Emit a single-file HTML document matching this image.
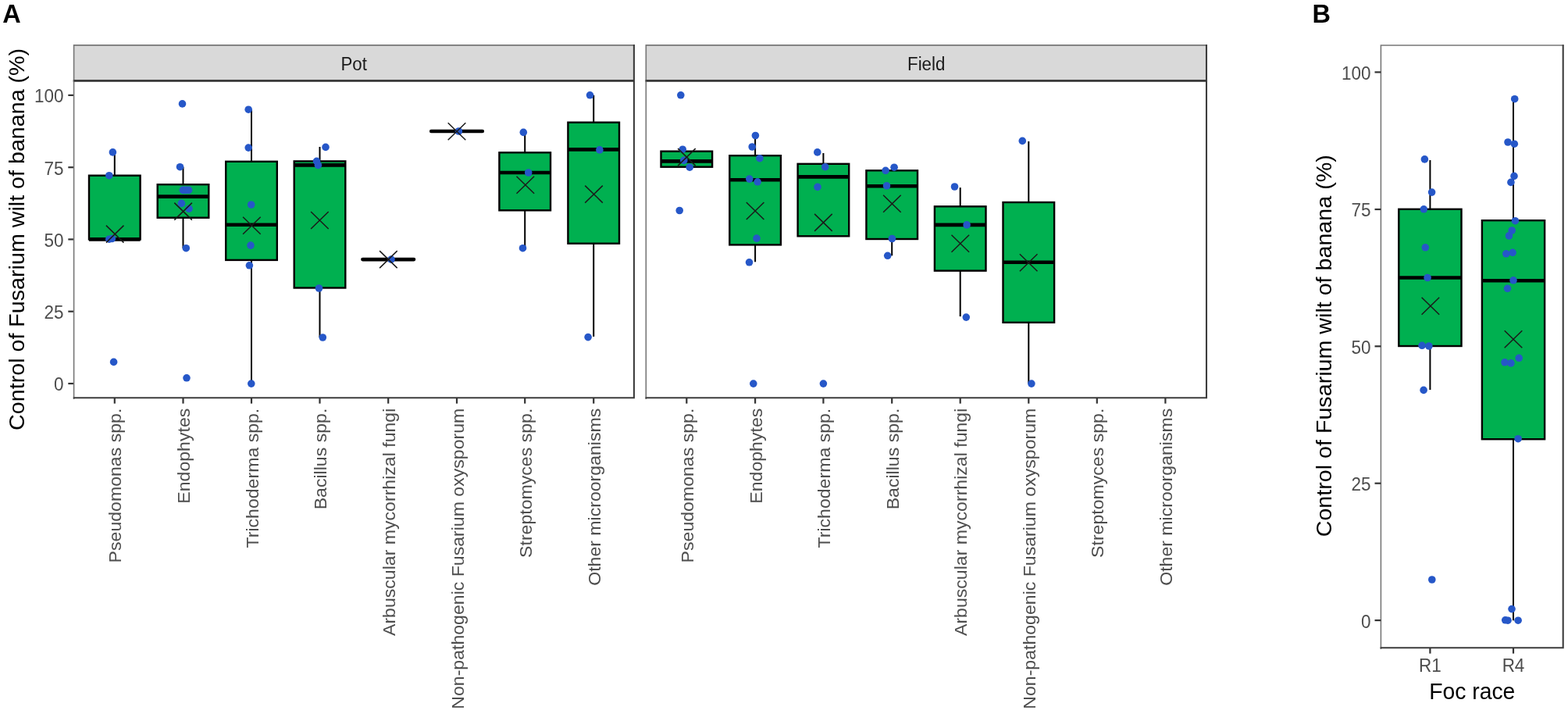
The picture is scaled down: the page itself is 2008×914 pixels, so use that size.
<!DOCTYPE html><html><head><meta charset="utf-8"><title>Fusarium wilt control</title><style>html,body{margin:0;padding:0;background:#fff;}svg{display:block;}text{font-family:"Liberation Sans",Arial,sans-serif;}</style></head><body>
<svg width="2008" height="914" viewBox="0 0 2008 914">
<rect width="2008" height="914" fill="#fff"/>
<text transform="translate(3.2,29.3) scale(1,1.03)" font-size="32.5" fill="#000" text-anchor="start" font-weight="bold">A</text>
<text transform="translate(1680.5,29.3) scale(1,1.03)" font-size="32.5" fill="#000" text-anchor="start" font-weight="bold">B</text>
<rect x="94.6" y="57.9" width="717.3" height="45.5" fill="#d9d9d9"/>
<path d="M94.6 104.2V57.9H811.9" fill="none" stroke="#777777" stroke-width="1.6" stroke-linecap="square"/>
<path d="M93.8 103.4H811.9V57.1" fill="none" stroke="#3d3d3d" stroke-width="2.1"/>
<text transform="translate(453.2,89.8) scale(1,1.06)" font-size="22.3" fill="#1a1a1a" text-anchor="middle">Pot</text>
<rect x="827.3" y="57.9" width="717.7" height="45.5" fill="#d9d9d9"/>
<path d="M827.3 104.2V57.9H1545.0" fill="none" stroke="#777777" stroke-width="1.6" stroke-linecap="square"/>
<path d="M826.5 103.4H1545.0V57.1" fill="none" stroke="#3d3d3d" stroke-width="2.1"/>
<text transform="translate(1186.2,89.8) scale(1,1.06)" font-size="22.3" fill="#1a1a1a" text-anchor="middle">Field</text>
<line x1="87.3" y1="121.9" x2="94.6" y2="121.9" stroke="#333" stroke-width="2.2"/>
<text transform="translate(81.5,131.3) scale(1,1.06)" font-size="22.5" fill="#4d4d4d" text-anchor="end">100</text>
<line x1="87.3" y1="214.2" x2="94.6" y2="214.2" stroke="#333" stroke-width="2.2"/>
<text transform="translate(81.5,223.6) scale(1,1.06)" font-size="22.5" fill="#4d4d4d" text-anchor="end">75</text>
<line x1="87.3" y1="306.4" x2="94.6" y2="306.4" stroke="#333" stroke-width="2.2"/>
<text transform="translate(81.5,315.8) scale(1,1.06)" font-size="22.5" fill="#4d4d4d" text-anchor="end">50</text>
<line x1="87.3" y1="398.7" x2="94.6" y2="398.7" stroke="#333" stroke-width="2.2"/>
<text transform="translate(81.5,408.1) scale(1,1.06)" font-size="22.5" fill="#4d4d4d" text-anchor="end">25</text>
<line x1="87.3" y1="491.0" x2="94.6" y2="491.0" stroke="#333" stroke-width="2.2"/>
<text transform="translate(81.5,500.4) scale(1,1.06)" font-size="22.5" fill="#4d4d4d" text-anchor="end">0</text>
<text transform="translate(30.6,306.4) rotate(-90) scale(1.05,1)" font-size="27.3" fill="#000" text-anchor="middle">Control of Fusarium wilt of banana (%)</text>
<line x1="146.8" y1="194.9" x2="146.8" y2="224.7" stroke="#000" stroke-width="2.0"/>
<rect x="114.0" y="224.7" width="65.6" height="81.7" fill="#00b050" stroke="#000" stroke-width="2.4"/>
<line x1="114.0" y1="306.4" x2="179.6" y2="306.4" stroke="#000" stroke-width="4.6"/>
<line x1="234.5" y1="213.7" x2="234.5" y2="236.2" stroke="#000" stroke-width="2.0"/>
<line x1="234.5" y1="278.7" x2="234.5" y2="317.7" stroke="#000" stroke-width="2.0"/>
<rect x="201.7" y="236.2" width="65.6" height="42.5" fill="#00b050" stroke="#000" stroke-width="2.4"/>
<line x1="201.7" y1="251.6" x2="267.3" y2="251.6" stroke="#000" stroke-width="4.6"/>
<line x1="322.0" y1="140.2" x2="322.0" y2="206.8" stroke="#000" stroke-width="2.0"/>
<line x1="322.0" y1="332.9" x2="322.0" y2="491.1" stroke="#000" stroke-width="2.0"/>
<rect x="289.2" y="206.8" width="65.6" height="126.1" fill="#00b050" stroke="#000" stroke-width="2.4"/>
<line x1="289.2" y1="287.7" x2="354.8" y2="287.7" stroke="#000" stroke-width="4.6"/>
<line x1="409.5" y1="188.0" x2="409.5" y2="206.4" stroke="#000" stroke-width="2.0"/>
<line x1="409.5" y1="368.5" x2="409.5" y2="432.0" stroke="#000" stroke-width="2.0"/>
<rect x="376.7" y="206.4" width="65.6" height="162.1" fill="#00b050" stroke="#000" stroke-width="2.4"/>
<line x1="376.7" y1="211.4" x2="442.3" y2="211.4" stroke="#000" stroke-width="4.6"/>
<line x1="464.4" y1="332.1" x2="530.0" y2="332.1" stroke="#000" stroke-width="4.6" stroke-linecap="round"/>
<line x1="552.2" y1="168.0" x2="617.8" y2="168.0" stroke="#000" stroke-width="4.6" stroke-linecap="round"/>
<line x1="672.2" y1="169.4" x2="672.2" y2="195.3" stroke="#000" stroke-width="2.0"/>
<line x1="672.2" y1="269.3" x2="672.2" y2="317.7" stroke="#000" stroke-width="2.0"/>
<rect x="639.4" y="195.3" width="65.6" height="74.0" fill="#00b050" stroke="#000" stroke-width="2.4"/>
<line x1="639.4" y1="221.0" x2="705.0" y2="221.0" stroke="#000" stroke-width="4.6"/>
<line x1="760.2" y1="121.8" x2="760.2" y2="156.7" stroke="#000" stroke-width="2.0"/>
<line x1="760.2" y1="311.7" x2="760.2" y2="430.9" stroke="#000" stroke-width="2.0"/>
<rect x="727.4" y="156.7" width="65.6" height="155.0" fill="#00b050" stroke="#000" stroke-width="2.4"/>
<line x1="727.4" y1="191.4" x2="793.0" y2="191.4" stroke="#000" stroke-width="4.6"/>
<circle cx="144.4" cy="194.9" r="4.8" fill="#2657c8"/>
<circle cx="139.8" cy="224.7" r="4.8" fill="#2657c8"/>
<circle cx="139.8" cy="306.2" r="4.8" fill="#2657c8"/>
<circle cx="143.4" cy="305.5" r="4.8" fill="#2657c8"/>
<circle cx="145.6" cy="463.4" r="4.8" fill="#2657c8"/>
<circle cx="233.5" cy="132.9" r="4.8" fill="#2657c8"/>
<circle cx="230.5" cy="213.7" r="4.8" fill="#2657c8"/>
<circle cx="234.3" cy="243.4" r="4.8" fill="#2657c8"/>
<circle cx="238" cy="243.4" r="4.8" fill="#2657c8"/>
<circle cx="241.6" cy="243.4" r="4.8" fill="#2657c8"/>
<circle cx="232.4" cy="260.4" r="4.8" fill="#2657c8"/>
<circle cx="242" cy="267.2" r="4.8" fill="#2657c8"/>
<circle cx="238.3" cy="317.7" r="4.8" fill="#2657c8"/>
<circle cx="239" cy="483.8" r="4.8" fill="#2657c8"/>
<circle cx="318.2" cy="140.2" r="4.8" fill="#2657c8"/>
<circle cx="318.2" cy="189.1" r="4.8" fill="#2657c8"/>
<circle cx="321.7" cy="262" r="4.8" fill="#2657c8"/>
<circle cx="321" cy="314.1" r="4.8" fill="#2657c8"/>
<circle cx="319.4" cy="339.8" r="4.8" fill="#2657c8"/>
<circle cx="321.8" cy="491.1" r="4.8" fill="#2657c8"/>
<circle cx="417" cy="188.4" r="4.8" fill="#2657c8"/>
<circle cx="405.5" cy="206.4" r="4.8" fill="#2657c8"/>
<circle cx="407.4" cy="211.4" r="4.8" fill="#2657c8"/>
<circle cx="408.5" cy="369" r="4.8" fill="#2657c8"/>
<circle cx="413.3" cy="432" r="4.8" fill="#2657c8"/>
<circle cx="501" cy="332.1" r="4.8" fill="#2657c8"/>
<circle cx="587.4" cy="168" r="4.8" fill="#2657c8"/>
<circle cx="670.3" cy="169.4" r="4.8" fill="#2657c8"/>
<circle cx="676.7" cy="221" r="4.8" fill="#2657c8"/>
<circle cx="669.5" cy="317.7" r="4.8" fill="#2657c8"/>
<circle cx="755.5" cy="121.8" r="4.8" fill="#2657c8"/>
<circle cx="767.9" cy="191.9" r="4.8" fill="#2657c8"/>
<circle cx="753.1" cy="431.6" r="4.8" fill="#2657c8"/>
<path d="M135.9 288.6L158.5 310.6M135.9 310.6L158.5 288.6" stroke="#1a1a1a" stroke-width="1.5" fill="none"/>
<path d="M223.3 259.6L245.9 281.6M223.3 281.6L245.9 259.6" stroke="#1a1a1a" stroke-width="1.5" fill="none"/>
<path d="M311.1 277.8L333.7 299.8M311.1 299.8L333.7 277.8" stroke="#1a1a1a" stroke-width="1.5" fill="none"/>
<path d="M398.1 271.0L420.7 293.0M398.1 293.0L420.7 271.0" stroke="#1a1a1a" stroke-width="1.5" fill="none"/>
<path d="M486.1 321.1L508.7 343.1M486.1 343.1L508.7 321.1" stroke="#1a1a1a" stroke-width="1.5" fill="none"/>
<path d="M573.7 157.2L596.3 179.2M573.7 179.2L596.3 157.2" stroke="#1a1a1a" stroke-width="1.5" fill="none"/>
<path d="M661.5 225.7L684.1 247.7M661.5 247.7L684.1 225.7" stroke="#1a1a1a" stroke-width="1.5" fill="none"/>
<path d="M749.2 237.6L771.8 259.6M749.2 259.6L771.8 237.6" stroke="#1a1a1a" stroke-width="1.5" fill="none"/>
<rect x="846.5" y="193.7" width="65.6" height="20.0" fill="#00b050" stroke="#000" stroke-width="2.4"/>
<line x1="846.5" y1="206.4" x2="912.1" y2="206.4" stroke="#000" stroke-width="4.6"/>
<line x1="967.1" y1="173.5" x2="967.1" y2="199.2" stroke="#000" stroke-width="2.0"/>
<line x1="967.1" y1="313.4" x2="967.1" y2="335.3" stroke="#000" stroke-width="2.0"/>
<rect x="934.3" y="199.2" width="65.6" height="114.2" fill="#00b050" stroke="#000" stroke-width="2.4"/>
<line x1="934.3" y1="230.3" x2="999.9" y2="230.3" stroke="#000" stroke-width="4.6"/>
<line x1="1054.4" y1="196.0" x2="1054.4" y2="209.8" stroke="#000" stroke-width="2.0"/>
<rect x="1021.6" y="209.8" width="65.6" height="92.5" fill="#00b050" stroke="#000" stroke-width="2.4"/>
<line x1="1021.6" y1="226.4" x2="1087.2" y2="226.4" stroke="#000" stroke-width="4.6"/>
<line x1="1142.2" y1="214.2" x2="1142.2" y2="218.3" stroke="#000" stroke-width="2.0"/>
<line x1="1142.2" y1="306.0" x2="1142.2" y2="327.3" stroke="#000" stroke-width="2.0"/>
<rect x="1109.4" y="218.3" width="65.6" height="87.7" fill="#00b050" stroke="#000" stroke-width="2.4"/>
<line x1="1109.4" y1="238.3" x2="1175.0" y2="238.3" stroke="#000" stroke-width="4.6"/>
<line x1="1229.7" y1="240.1" x2="1229.7" y2="264.3" stroke="#000" stroke-width="2.0"/>
<line x1="1229.7" y1="346.6" x2="1229.7" y2="405.1" stroke="#000" stroke-width="2.0"/>
<rect x="1196.9" y="264.3" width="65.6" height="82.3" fill="#00b050" stroke="#000" stroke-width="2.4"/>
<line x1="1196.9" y1="287.9" x2="1262.5" y2="287.9" stroke="#000" stroke-width="4.6"/>
<line x1="1317.3" y1="180.9" x2="1317.3" y2="259.0" stroke="#000" stroke-width="2.0"/>
<line x1="1317.3" y1="412.8" x2="1317.3" y2="491.1" stroke="#000" stroke-width="2.0"/>
<rect x="1284.5" y="259.0" width="65.6" height="153.8" fill="#00b050" stroke="#000" stroke-width="2.4"/>
<line x1="1284.5" y1="335.8" x2="1350.1" y2="335.8" stroke="#000" stroke-width="4.6"/>
<circle cx="871.8" cy="121.8" r="4.8" fill="#2657c8"/>
<circle cx="874.2" cy="191.2" r="4.8" fill="#2657c8"/>
<circle cx="875.8" cy="205.4" r="4.8" fill="#2657c8"/>
<circle cx="883.2" cy="214.2" r="4.8" fill="#2657c8"/>
<circle cx="870.2" cy="269.5" r="4.8" fill="#2657c8"/>
<circle cx="967.4" cy="173.5" r="4.8" fill="#2657c8"/>
<circle cx="963.2" cy="188" r="4.8" fill="#2657c8"/>
<circle cx="972.9" cy="202.7" r="4.8" fill="#2657c8"/>
<circle cx="959.8" cy="229.1" r="4.8" fill="#2657c8"/>
<circle cx="970.1" cy="232.8" r="4.8" fill="#2657c8"/>
<circle cx="969" cy="305.1" r="4.8" fill="#2657c8"/>
<circle cx="959.5" cy="335.8" r="4.8" fill="#2657c8"/>
<circle cx="964.8" cy="491.1" r="4.8" fill="#2657c8"/>
<circle cx="1046.8" cy="194.9" r="4.8" fill="#2657c8"/>
<circle cx="1056.7" cy="213.7" r="4.8" fill="#2657c8"/>
<circle cx="1047" cy="239.4" r="4.8" fill="#2657c8"/>
<circle cx="1054.4" cy="491.1" r="4.8" fill="#2657c8"/>
<circle cx="1134.1" cy="218.3" r="4.8" fill="#2657c8"/>
<circle cx="1145.1" cy="214.2" r="4.8" fill="#2657c8"/>
<circle cx="1135.5" cy="237.8" r="4.8" fill="#2657c8"/>
<circle cx="1142.4" cy="305.5" r="4.8" fill="#2657c8"/>
<circle cx="1136.7" cy="327.3" r="4.8" fill="#2657c8"/>
<circle cx="1222.5" cy="239" r="4.8" fill="#2657c8"/>
<circle cx="1238.1" cy="287.9" r="4.8" fill="#2657c8"/>
<circle cx="1237.3" cy="406.1" r="4.8" fill="#2657c8"/>
<circle cx="1309.3" cy="180.4" r="4.8" fill="#2657c8"/>
<circle cx="1320.9" cy="491.1" r="4.8" fill="#2657c8"/>
<path d="M868.1 190.1L890.7 212.1M868.1 212.1L890.7 190.1" stroke="#1a1a1a" stroke-width="1.5" fill="none"/>
<path d="M955.8 259.0L978.4 281.0M955.8 281.0L978.4 259.0" stroke="#1a1a1a" stroke-width="1.5" fill="none"/>
<path d="M1043.1 273.9L1065.7 295.9M1043.1 295.9L1065.7 273.9" stroke="#1a1a1a" stroke-width="1.5" fill="none"/>
<path d="M1131.1 249.8L1153.7 271.8M1131.1 271.8L1153.7 249.8" stroke="#1a1a1a" stroke-width="1.5" fill="none"/>
<path d="M1218.5 300.7L1241.1 322.7M1218.5 322.7L1241.1 300.7" stroke="#1a1a1a" stroke-width="1.5" fill="none"/>
<path d="M1305.9 325.2L1328.5 347.2M1305.9 347.2L1328.5 325.2" stroke="#1a1a1a" stroke-width="1.5" fill="none"/>
<path d="M94.6 510.1V103.4H811.9" fill="none" stroke="#777777" stroke-width="1.6" stroke-linecap="square"/>
<path d="M93.8 509.3H811.9V102.60000000000001" fill="none" stroke="#3d3d3d" stroke-width="2.1"/>
<line x1="94.6" y1="103.4" x2="811.9" y2="103.4" stroke="#333" stroke-width="2.2"/>
<path d="M827.3 510.1V103.4H1545.0" fill="none" stroke="#777777" stroke-width="1.6" stroke-linecap="square"/>
<path d="M826.5 509.3H1545.0V102.60000000000001" fill="none" stroke="#3d3d3d" stroke-width="2.1"/>
<line x1="827.3" y1="103.4" x2="1545.0" y2="103.4" stroke="#333" stroke-width="2.2"/>
<line x1="146.8" y1="509.3" x2="146.8" y2="516.6" stroke="#333" stroke-width="2.2"/>
<text transform="translate(155.4,522.7) rotate(-90) scale(1.05,1)" font-size="22" fill="#4d4d4d" text-anchor="end">Pseudomonas spp.</text>
<line x1="234.5" y1="509.3" x2="234.5" y2="516.6" stroke="#333" stroke-width="2.2"/>
<text transform="translate(243.1,522.7) rotate(-90) scale(1.05,1)" font-size="22" fill="#4d4d4d" text-anchor="end">Endophytes</text>
<line x1="322.0" y1="509.3" x2="322.0" y2="516.6" stroke="#333" stroke-width="2.2"/>
<text transform="translate(330.6,522.7) rotate(-90) scale(1.05,1)" font-size="22" fill="#4d4d4d" text-anchor="end">Trichoderma spp.</text>
<line x1="409.5" y1="509.3" x2="409.5" y2="516.6" stroke="#333" stroke-width="2.2"/>
<text transform="translate(418.1,522.7) rotate(-90) scale(1.05,1)" font-size="22" fill="#4d4d4d" text-anchor="end">Bacillus spp.</text>
<line x1="497.2" y1="509.3" x2="497.2" y2="516.6" stroke="#333" stroke-width="2.2"/>
<text transform="translate(505.8,522.7) rotate(-90) scale(1.05,1)" font-size="22" fill="#4d4d4d" text-anchor="end">Arbuscular mycorrhizal fungi</text>
<line x1="585.0" y1="509.3" x2="585.0" y2="516.6" stroke="#333" stroke-width="2.2"/>
<text transform="translate(593.6,522.7) rotate(-90) scale(1.05,1)" font-size="22" fill="#4d4d4d" text-anchor="end">Non-pathogenic Fusarium oxysporum</text>
<line x1="672.2" y1="509.3" x2="672.2" y2="516.6" stroke="#333" stroke-width="2.2"/>
<text transform="translate(680.8,522.7) rotate(-90) scale(1.05,1)" font-size="22" fill="#4d4d4d" text-anchor="end">Streptomyces spp.</text>
<line x1="760.2" y1="509.3" x2="760.2" y2="516.6" stroke="#333" stroke-width="2.2"/>
<text transform="translate(768.8,522.7) rotate(-90) scale(1.05,1)" font-size="22" fill="#4d4d4d" text-anchor="end">Other microorganisms</text>
<line x1="879.3" y1="509.3" x2="879.3" y2="516.6" stroke="#333" stroke-width="2.2"/>
<text transform="translate(887.9,522.7) rotate(-90) scale(1.05,1)" font-size="22" fill="#4d4d4d" text-anchor="end">Pseudomonas spp.</text>
<line x1="967.1" y1="509.3" x2="967.1" y2="516.6" stroke="#333" stroke-width="2.2"/>
<text transform="translate(975.7,522.7) rotate(-90) scale(1.05,1)" font-size="22" fill="#4d4d4d" text-anchor="end">Endophytes</text>
<line x1="1054.4" y1="509.3" x2="1054.4" y2="516.6" stroke="#333" stroke-width="2.2"/>
<text transform="translate(1063.0,522.7) rotate(-90) scale(1.05,1)" font-size="22" fill="#4d4d4d" text-anchor="end">Trichoderma spp.</text>
<line x1="1142.2" y1="509.3" x2="1142.2" y2="516.6" stroke="#333" stroke-width="2.2"/>
<text transform="translate(1150.8,522.7) rotate(-90) scale(1.05,1)" font-size="22" fill="#4d4d4d" text-anchor="end">Bacillus spp.</text>
<line x1="1229.7" y1="509.3" x2="1229.7" y2="516.6" stroke="#333" stroke-width="2.2"/>
<text transform="translate(1238.3,522.7) rotate(-90) scale(1.05,1)" font-size="22" fill="#4d4d4d" text-anchor="end">Arbuscular mycorrhizal fungi</text>
<line x1="1317.3" y1="509.3" x2="1317.3" y2="516.6" stroke="#333" stroke-width="2.2"/>
<text transform="translate(1325.9,522.7) rotate(-90) scale(1.05,1)" font-size="22" fill="#4d4d4d" text-anchor="end">Non-pathogenic Fusarium oxysporum</text>
<line x1="1404.8" y1="509.3" x2="1404.8" y2="516.6" stroke="#333" stroke-width="2.2"/>
<text transform="translate(1413.4,522.7) rotate(-90) scale(1.05,1)" font-size="22" fill="#4d4d4d" text-anchor="end">Streptomyces spp.</text>
<line x1="1492.4" y1="509.3" x2="1492.4" y2="516.6" stroke="#333" stroke-width="2.2"/>
<text transform="translate(1501.0,522.7) rotate(-90) scale(1.05,1)" font-size="22" fill="#4d4d4d" text-anchor="end">Other microorganisms</text>
<line x1="1831.4" y1="205.0" x2="1831.4" y2="267.8" stroke="#000" stroke-width="2.0"/>
<line x1="1831.4" y1="443.0" x2="1831.4" y2="499.0" stroke="#000" stroke-width="2.0"/>
<rect x="1791.3" y="267.8" width="80.2" height="175.2" fill="#00b050" stroke="#000" stroke-width="2.4"/>
<line x1="1791.3" y1="355.5" x2="1871.5" y2="355.5" stroke="#000" stroke-width="4.6"/>
<line x1="1938.0" y1="126.7" x2="1938.0" y2="282.2" stroke="#000" stroke-width="2.0"/>
<line x1="1938.0" y1="562.2" x2="1938.0" y2="794.2" stroke="#000" stroke-width="2.0"/>
<rect x="1897.9" y="282.2" width="80.2" height="280.0" fill="#00b050" stroke="#000" stroke-width="2.4"/>
<line x1="1897.9" y1="359.2" x2="1978.1" y2="359.2" stroke="#000" stroke-width="4.6"/>
<circle cx="1824.4" cy="203.9" r="4.8" fill="#2657c8"/>
<circle cx="1833.6" cy="246.1" r="4.8" fill="#2657c8"/>
<circle cx="1823.3" cy="267.8" r="4.8" fill="#2657c8"/>
<circle cx="1825.3" cy="316.8" r="4.8" fill="#2657c8"/>
<circle cx="1828.1" cy="355.5" r="4.8" fill="#2657c8"/>
<circle cx="1821.1" cy="442.3" r="4.8" fill="#2657c8"/>
<circle cx="1829.9" cy="443" r="4.8" fill="#2657c8"/>
<circle cx="1823.1" cy="499.4" r="4.8" fill="#2657c8"/>
<circle cx="1833.8" cy="742" r="4.8" fill="#2657c8"/>
<circle cx="1939.7" cy="126.7" r="4.8" fill="#2657c8"/>
<circle cx="1931" cy="182" r="4.8" fill="#2657c8"/>
<circle cx="1939.3" cy="184.2" r="4.8" fill="#2657c8"/>
<circle cx="1939" cy="225.4" r="4.8" fill="#2657c8"/>
<circle cx="1934.9" cy="233.4" r="4.8" fill="#2657c8"/>
<circle cx="1940.4" cy="282.7" r="4.8" fill="#2657c8"/>
<circle cx="1936.2" cy="295" r="4.8" fill="#2657c8"/>
<circle cx="1932.5" cy="301.9" r="4.8" fill="#2657c8"/>
<circle cx="1928.8" cy="324.8" r="4.8" fill="#2657c8"/>
<circle cx="1937.1" cy="323.3" r="4.8" fill="#2657c8"/>
<circle cx="1938" cy="358.8" r="4.8" fill="#2657c8"/>
<circle cx="1930.5" cy="369.3" r="4.8" fill="#2657c8"/>
<circle cx="1927" cy="463.8" r="4.8" fill="#2657c8"/>
<circle cx="1934.9" cy="464.9" r="4.8" fill="#2657c8"/>
<circle cx="1945.2" cy="458.3" r="4.8" fill="#2657c8"/>
<circle cx="1944.1" cy="561.7" r="4.8" fill="#2657c8"/>
<circle cx="1936" cy="779.6" r="4.8" fill="#2657c8"/>
<circle cx="1927.7" cy="793.8" r="4.8" fill="#2657c8"/>
<circle cx="1931" cy="794.2" r="4.8" fill="#2657c8"/>
<circle cx="1944.1" cy="794.2" r="4.8" fill="#2657c8"/>
<path d="M1820.6 380.7L1843.2 402.7M1820.6 402.7L1843.2 380.7" stroke="#1a1a1a" stroke-width="1.5" fill="none"/>
<path d="M1926.7 423.2L1949.3 445.2M1926.7 445.2L1949.3 423.2" stroke="#1a1a1a" stroke-width="1.5" fill="none"/>
<path d="M1768.4 830.0999999999999V58.0H2001.7" fill="none" stroke="#777777" stroke-width="1.6" stroke-linecap="square"/>
<path d="M1767.6000000000001 829.3H2001.7V57.2" fill="none" stroke="#3d3d3d" stroke-width="2.1"/>
<line x1="1760.5" y1="92.4" x2="1768.4" y2="92.4" stroke="#333" stroke-width="2.2"/>
<text transform="translate(1755.6,101.8) scale(1,1.06)" font-size="22.5" fill="#4d4d4d" text-anchor="end">100</text>
<line x1="1760.5" y1="268.0" x2="1768.4" y2="268.0" stroke="#333" stroke-width="2.2"/>
<text transform="translate(1755.6,277.4) scale(1,1.06)" font-size="22.5" fill="#4d4d4d" text-anchor="end">75</text>
<line x1="1760.5" y1="443.3" x2="1768.4" y2="443.3" stroke="#333" stroke-width="2.2"/>
<text transform="translate(1755.6,452.7) scale(1,1.06)" font-size="22.5" fill="#4d4d4d" text-anchor="end">50</text>
<line x1="1760.5" y1="618.7" x2="1768.4" y2="618.7" stroke="#333" stroke-width="2.2"/>
<text transform="translate(1755.6,628.1) scale(1,1.06)" font-size="22.5" fill="#4d4d4d" text-anchor="end">25</text>
<line x1="1760.5" y1="794.1" x2="1768.4" y2="794.1" stroke="#333" stroke-width="2.2"/>
<text transform="translate(1755.6,803.5) scale(1,1.06)" font-size="22.5" fill="#4d4d4d" text-anchor="end">0</text>
<line x1="1831.4" y1="829.3" x2="1831.4" y2="836.6" stroke="#333" stroke-width="2.2"/>
<text transform="translate(1831.4,860.3) scale(1,1.06)" font-size="22.5" fill="#4d4d4d" text-anchor="middle">R1</text>
<line x1="1938.0" y1="829.3" x2="1938.0" y2="836.6" stroke="#333" stroke-width="2.2"/>
<text transform="translate(1938.0,860.3) scale(1,1.06)" font-size="22.5" fill="#4d4d4d" text-anchor="middle">R4</text>
<text transform="translate(1885.3,894.6) scale(1,1.06)" font-size="28.3" fill="#000" text-anchor="middle">Foc race</text>
<text transform="translate(1704.6,442.8) rotate(-90) scale(1.05,1)" font-size="27.3" fill="#000" text-anchor="middle">Control of Fusarium wilt of banana (%)</text>
</svg></body></html>
